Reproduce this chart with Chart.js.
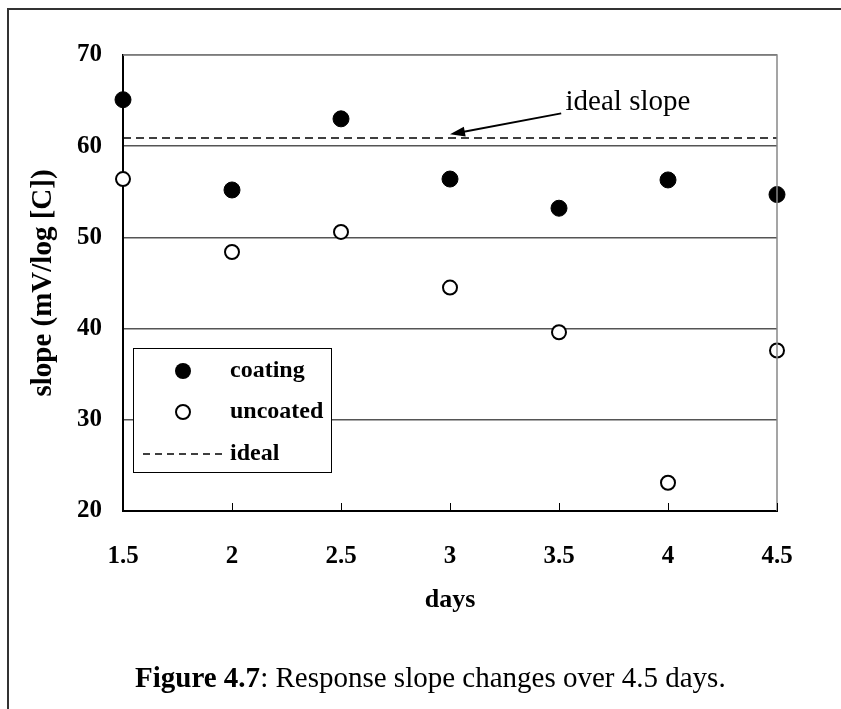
<!DOCTYPE html>
<html>
<head>
<meta charset="utf-8">
<title>Response slope</title>
<script src="https://cdn.jsdelivr.net/npm/chart.js@4"></script>
<style>
  body { margin: 0; background: #fff; }
  #wrap { position: relative; width: 841px; height: 709px; }
  #caption {
    position: absolute; left: 135px; top: 659px;
    font: 29px/36px "Liberation Serif", serif; color: #000; white-space: nowrap;
  }
</style>
</head>
<body>
<div id="wrap">
  <canvas id="slope_chart" width="841" height="709"></canvas>
  <div id="caption"><b>Figure 4.7</b>: Response slope changes over 4.5 days.</div>
</div>
<script>
const days = [1.5, 2, 2.5, 3, 3.5, 4, 4.5]
const coating = [65.1, 55.2, 63.0, 56.4, 53.2, 56.3, 54.7]
const uncoated = [56.4, 48.4, 50.6, 44.5, 39.6, 23.1, 37.6]
const idealSlope = 60.9
const legendLabels = ['coating', 'uncoated', 'ideal']

const toPoints = (ys) => days.map((d, i) => ({x: d, y: ys[i]}))
const idealLine = [{x: days[0], y: idealSlope}, {x: days[days.length - 1], y: idealSlope}]

Chart.defaults.font.family = '"Liberation Serif", "Times New Roman", serif'
Chart.defaults.color = '#000'

// legend box, arrow note, inward ticks and frame lines
const extras = {
    id: 'extras',
    afterDraw(chart) {
        const ctx = chart.ctx
        const area = chart.chartArea
        const xs = chart.scales.x
        const ys = chart.scales.y
        ctx.save()

        // outer frame (left and top)
        ctx.strokeStyle = '#333'
        ctx.lineWidth = 2
        ctx.beginPath()
        ctx.moveTo(8, 709)
        ctx.lineTo(8, 9)
        ctx.lineTo(841, 9)
        ctx.stroke()

        // top and right edge of plot area
        ctx.strokeStyle = '#888'
        ctx.lineWidth = 1.5
        ctx.beginPath()
        ctx.moveTo(area.left, area.top)
        ctx.lineTo(area.right, area.top)
        ctx.lineTo(area.right, area.bottom)
        ctx.stroke()

        // tick marks pointing into the plot
        ctx.strokeStyle = '#000'
        ctx.lineWidth = 1
        xs.ticks.forEach(t => {
            const px = Math.round(xs.getPixelForValue(t.value)) + 0.5
            ctx.beginPath()
            ctx.moveTo(px, area.bottom)
            ctx.lineTo(px, area.bottom - 8)
            ctx.stroke()
        })

        // arrow to the ideal line
        const x0 = xs.getPixelForValue(3.51), y0 = ys.getPixelForValue(63.6)
        const x1 = xs.getPixelForValue(3.0), y1 = ys.getPixelForValue(61.3)
        const ang = Math.atan2(y1 - y0, x1 - x0)
        ctx.lineWidth = 2
        ctx.beginPath()
        ctx.moveTo(x0, y0)
        ctx.lineTo(x1 - 10 * Math.cos(ang), y1 - 10 * Math.sin(ang))
        ctx.stroke()
        ctx.fillStyle = '#000'
        ctx.beginPath()
        ctx.moveTo(x1, y1)
        ctx.lineTo(x1 - 15 * Math.cos(ang) + 5 * Math.sin(ang), y1 - 15 * Math.sin(ang) - 5 * Math.cos(ang))
        ctx.lineTo(x1 - 15 * Math.cos(ang) - 5 * Math.sin(ang), y1 - 15 * Math.sin(ang) + 5 * Math.cos(ang))
        ctx.closePath()
        ctx.fill()

        ctx.font = '29px "Liberation Serif", serif'
        ctx.textAlign = 'left'
        ctx.textBaseline = 'middle'
        ctx.fillText('ideal slope', xs.getPixelForValue(3.53), ys.getPixelForValue(64.8))

        // legend
        const bx = 133, by = 348, bw = 198, bh = 124
        ctx.fillStyle = '#fff'
        ctx.fillRect(bx, by, bw, bh)
        ctx.strokeStyle = '#000'
        ctx.lineWidth = 1
        ctx.strokeRect(bx + 0.5, by + 0.5, bw, bh)

        const rowY = [371, 412, 454]
        ctx.beginPath()
        ctx.arc(183, rowY[0], 8, 0, Math.PI * 2)
        ctx.fillStyle = '#000'
        ctx.fill()
        ctx.beginPath()
        ctx.arc(183, rowY[1], 7, 0, Math.PI * 2)
        ctx.fillStyle = '#fff'
        ctx.fill()
        ctx.lineWidth = 2
        ctx.stroke()
        ctx.lineWidth = 1.5
        ctx.setLineDash([7, 5])
        ctx.beginPath()
        ctx.moveTo(143, rowY[2])
        ctx.lineTo(224, rowY[2])
        ctx.stroke()
        ctx.setLineDash([])

        ctx.fillStyle = '#000'
        ctx.font = 'bold 24px "Liberation Serif", serif'
        legendLabels.forEach((s, i) => ctx.fillText(s, 230, rowY[i]))

        ctx.restore()
    }
}

const context = document.querySelector('#slope_chart').getContext('2d')
new Chart(context, {
    type: 'scatter',
    data: {
        datasets: [{
            label: 'ideal',
            data: idealLine,
            showLine: true,
            borderColor: '#000',
            borderWidth: 1.5,
            borderDash: [8, 5],
            pointRadius: 0,
            clip: false,
        }, {
            label: 'coating',
            data: toPoints(coating),
            pointRadius: 8,
            backgroundColor: '#000',
            borderColor: '#000',
            borderWidth: 1,
            clip: false,
        }, {
            label: 'uncoated',
            data: toPoints(uncoated),
            pointRadius: 7,
            backgroundColor: '#fff',
            borderColor: '#000',
            borderWidth: 2,
            clip: false,
        }],
    },
    options: {
        responsive: false,
        animation: false,
        layout: {
            padding: {left: 0, right: 64, top: 55, bottom: 88},
        },
        plugins: {
            legend: {display: false},
            tooltip: {enabled: false},
        },
        scales: {
            x: {
                type: 'linear',
                min: 1.5,
                max: 4.5,
                afterFit: (scale) => { scale.height = 110 },
                ticks: {
                    stepSize: 0.5,
                    padding: 31,
                    font: {size: 25, weight: 'bold'},
                    callback: (v) => String(v),
                },
                grid: {drawOnChartArea: false, drawTicks: false},
                border: {color: '#000', width: 2},
                title: {
                    display: true,
                    text: 'days',
                    font: {size: 26, weight: 'bold'},
                    padding: {top: 0, bottom: 5},
                },
            },
            y: {
                min: 20,
                max: 70,
                afterFit: (scale) => { scale.width = 123 },
                ticks: {
                    stepSize: 10,
                    padding: 21,
                    font: {size: 25, weight: 'bold'},
                },
                grid: {color: '#555', lineWidth: 1.5, drawTicks: false},
                border: {color: '#000', width: 2},
                title: {
                    display: true,
                    text: 'slope (mV/log [C])',
                    font: {size: 29, weight: 'bold'},
                    padding: {top: 26, bottom: 0},
                },
            },
        },
    },
    plugins: [extras],
})
</script>
</body>
</html>
